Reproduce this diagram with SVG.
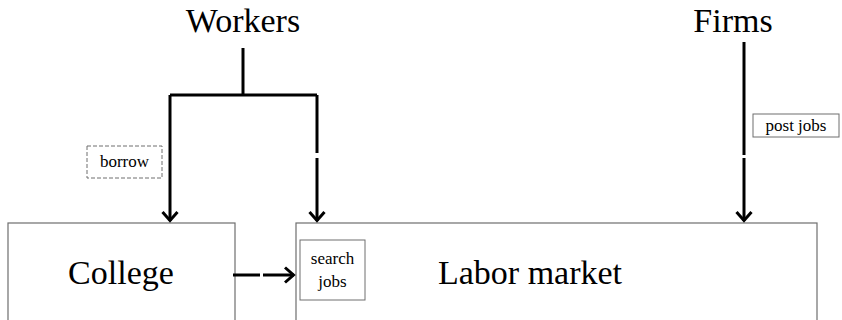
<svg xmlns="http://www.w3.org/2000/svg" width="842" height="320" viewBox="0 0 842 320">
<defs>
<marker id="arr" viewBox="0 0 12 18" refX="10.5" refY="9" markerWidth="12" markerHeight="18" markerUnits="userSpaceOnUse" orient="auto">
<path d="M1.5,1.5 L10,9 L1.5,16.5" fill="none" stroke="#000" stroke-width="3"/>
</marker>
</defs>
<style>
.box{fill:#fff;stroke:#6e6e6e;stroke-width:1.2}
.lbl{fill:#fff;stroke:#6e6e6e;stroke-width:1}
.dash{fill:#fff;stroke:#6e6e6e;stroke-width:1;stroke-dasharray:4 2}
.c{fill:none;stroke:#000;stroke-width:3}
</style>
<g id="workers"><text font-family="Liberation Serif" font-size="34" text-anchor="middle" x="243" y="32">Workers</text></g>
<g id="firms"><text font-family="Liberation Serif" font-size="34" text-anchor="middle" x="733" y="32">Firms</text></g>
<g id="college"><rect class="box" x="8" y="223" width="227" height="110"/><text font-family="Liberation Serif" font-size="34" text-anchor="middle" x="121" y="284">College</text></g>
<g id="labor"><rect class="box" x="296" y="223" width="521" height="110"/><text font-family="Liberation Serif" font-size="34" text-anchor="middle" x="530" y="284">Labor market</text></g>
<g id="connectors">
<path class="c" d="M243,48 V95"/>
<path class="c" d="M170,95 H317"/>
<path class="c" d="M170,95 V221" marker-end="url(#arr)"/>
<path class="c" d="M317,95 V153"/>
<path class="c" d="M317,158 V221" marker-end="url(#arr)"/>
<path class="c" d="M744,42 V155"/>
<path class="c" d="M744,158 V221" marker-end="url(#arr)"/>
<path class="c" d="M233,275 H260"/>
<path class="c" d="M263,275 H294" marker-end="url(#arr)"/>
</g>
<g id="borrow"><rect class="dash" x="87" y="146" width="75" height="32"/><text font-family="Liberation Serif" font-size="17" text-anchor="middle" x="124.5" y="167">borrow</text></g>
<g id="postjobs"><rect class="lbl" x="753" y="114" width="86" height="23"/><text font-family="Liberation Serif" font-size="17" text-anchor="middle" x="796" y="131">post jobs</text></g>
<g id="searchjobs"><rect class="lbl" x="300" y="240" width="65" height="60"/><text font-family="Liberation Serif" font-size="17" text-anchor="middle" x="332.5" y="264">search</text><text font-family="Liberation Serif" font-size="17" text-anchor="middle" x="332.5" y="287">jobs</text></g>
</svg>
